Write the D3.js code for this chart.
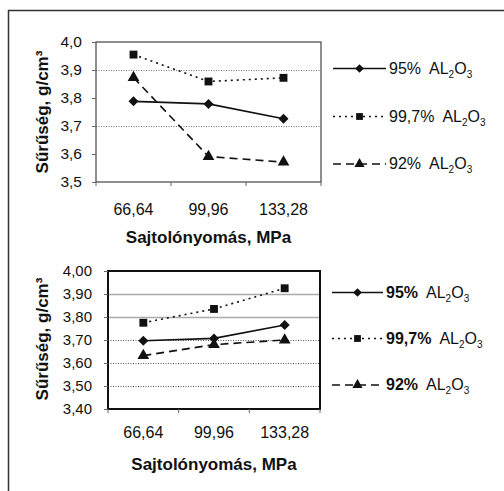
<!DOCTYPE html>
<html>
<head>
  <meta charset="utf-8">
  <script src="https://d3js.org/d3.v7.min.js"></script>
  <style>
    body { margin: 0; background: #fff; }
    svg { display: block; font-family: "Liberation Sans", Arial, sans-serif; }
  </style>
</head>
<body>
<script type="text/javascript">
  "use strict";

  /*
    Data
  */
  var categories = ["66,64", "99,96", "133,28"];
  var seriesNames = ["95%", "99,7%", "92%"];

  var top95 = [3.788, 3.779, 3.726];
  var top997 = [3.955, 3.859, 3.872];
  var top92 = [3.873, 3.591, 3.571];
  var topTicks = [3.5, 3.6, 3.7, 3.8, 3.9, 4.0];

  var bottom95 = [3.697, 3.707, 3.765];
  var bottom997 = [3.775, 3.835, 3.925];
  var bottom92 = [3.632, 3.68, 3.70];
  var bottomTicks = [3.4, 3.5, 3.6, 3.7, 3.8, 3.9, 4.0];

  var width = 504, height = 491;

  var svg = d3.select("body").append("svg")
      .attr("width", width)
      .attr("height", height);

  // outer frame (only top and left edges fall inside the picture)
  svg.append("path")
      .attr("d", "M8.5,491V10.5H504")
      .attr("fill", "none")
      .attr("stroke", "#333")
      .attr("stroke-width", 1.5);

  var styles = [
    { dash: null, symbol: d3.symbolSquare, rotate: 45, size: 50 },
    { dash: "2,4", symbol: d3.symbolSquare, rotate: 0, size: 62 },
    { dash: "8,5", symbol: d3.symbolTriangle, rotate: 0, size: 60 }
  ];

  function comma(f) {
    return function (d) { return d3.format(f)(d).replace(".", ","); };
  }

  /*
    One chart panel
  */
  function drawPanel(opt) {
    var g = svg.append("g");

    var x = d3.scaleBand().domain(categories).range(opt.xRange);
    var y = d3.scaleLinear().domain(opt.yDomain).range(opt.yRange);
    var x0 = opt.xRange[0], x1 = opt.xRange[1];
    var yTop = opt.yRange[1], yBot = opt.yRange[0];

    // grid lines
    opt.grid.forEach(function (gl) {
      g.selectAll(null).data(gl.values).enter().append("line")
          .attr("x1", x0).attr("x2", x1)
          .attr("y1", function (d) { return Math.round(y(d)) + 0.5; })
          .attr("y2", function (d) { return Math.round(y(d)) + 0.5; })
          .attr("stroke", gl.color)
          .attr("stroke-width", gl.width)
          .attr("stroke-dasharray", gl.dash);
    });

    // plot frame
    g.append("rect")
        .attr("x", x0).attr("y", yTop)
        .attr("width", x1 - x0).attr("height", yBot - yTop)
        .attr("fill", "none")
        .attr("stroke", opt.frameColor)
        .attr("stroke-width", opt.frameWidth);

    // y axis
    var yAxis = d3.axisLeft(y)
        .tickValues(opt.ticks)
        .tickSize(4)
        .tickPadding(opt.tickPad)
        .tickFormat(comma(opt.fmt));
    var ya = g.append("g").attr("transform", "translate(" + x0 + ",0)").call(yAxis);
    ya.select(".domain").remove();
    ya.selectAll(".tick line").attr("stroke", "#666");
    ya.selectAll(".tick text")
        .attr("font-size", opt.yFont)
        .attr("fill", "#111")
        .attr("font-family", null);

    // x ticks at category boundaries
    var bounds = categories.map(function (c) { return x(c); }).concat([x1]);
    g.selectAll(null).data(bounds).enter().append("line")
        .attr("x1", function (d) { return d; })
        .attr("x2", function (d) { return d; })
        .attr("y1", yBot).attr("y2", yBot + 4)
        .attr("stroke", "#666");

    g.selectAll(null).data(categories).enter().append("text")
        .attr("x", function (d) { return x(d) + x.bandwidth() / 2; })
        .attr("y", opt.xLabelY)
        .attr("text-anchor", "middle")
        .attr("font-size", 16)
        .attr("fill", "#111")
        .text(function (d) { return d; });

    // axis titles
    g.append("text")
        .attr("x", (x0 + x1) / 2)
        .attr("y", opt.xTitleY)
        .attr("text-anchor", "middle")
        .attr("font-size", 17)
        .attr("font-weight", "bold")
        .attr("fill", "#111")
        .text("Sajtolónyomás, MPa");

    g.append("text")
        .attr("transform", "translate(48," + opt.yTitleY + ") rotate(-90)")
        .attr("text-anchor", "middle")
        .attr("font-size", 17)
        .attr("font-weight", "bold")
        .attr("fill", "#111")
        .text("Sűrűség, g/cm³");

    // series
    var line = d3.line()
        .x(function (d, i) { return x(categories[i]) + x.bandwidth() / 2; })
        .y(function (d) { return y(d); });

    opt.series.forEach(function (vals, k) {
      var st = styles[k];
      g.append("path")
          .attr("d", line(vals))
          .attr("fill", "none")
          .attr("stroke", "#111")
          .attr("stroke-width", 1.6)
          .attr("stroke-dasharray", st.dash);
      g.selectAll(null).data(vals).enter().append("path")
          .attr("d", d3.symbol().type(st.symbol).size(st.size)())
          .attr("transform", function (d, i) {
            return "translate(" + (x(categories[i]) + x.bandwidth() / 2) + "," + y(d) + ") rotate(" + st.rotate + ")";
          })
          .attr("fill", "#111");
    });

    // legend
    var lg = g.append("g");
    seriesNames.forEach(function (name, k) {
      var st = styles[k];
      var by = opt.legendY[k];
      var ly = by - 5;
      lg.append("line")
          .attr("x1", opt.legendX[0]).attr("x2", opt.legendX[1])
          .attr("y1", ly).attr("y2", ly)
          .attr("stroke", "#111")
          .attr("stroke-width", 1.5)
          .attr("stroke-dasharray", st.dash);
      lg.append("path")
          .attr("d", d3.symbol().type(st.symbol).size(st.size * 0.75)())
          .attr("transform", "translate(" + (opt.legendX[0] + opt.legendX[1]) / 2 + "," + ly + ") rotate(" + st.rotate + ")")
          .attr("fill", "#111");
      var t = lg.append("text")
          .attr("x", opt.legendX[1] + 3)
          .attr("y", by)
          .attr("font-size", 16)
          .attr("fill", "#111");
      t.append("tspan").attr("font-weight", opt.legendBold ? "bold" : null).text(name);
      t.append("tspan").attr("dx", 8).text("AL");
      t.append("tspan").attr("dy", 4).attr("font-size", 10).text("2");
      t.append("tspan").attr("dy", -4).text("O");
      t.append("tspan").attr("dy", 4).attr("font-size", 10).text("3");
    });
  }

  drawPanel({
    xRange: [96, 321], yRange: [182, 42], yDomain: [3.5, 4.0],
    ticks: topTicks, fmt: ".1f", tickPad: 10, yFont: 15.5,
    grid: [{ values: [3.9, 3.7], color: "#777", width: 1, dash: "1,1.5" }],
    frameColor: "#444", frameWidth: 1.2,
    xLabelY: 215, xTitleY: 243, yTitleY: 112,
    series: [top95, top997, top92],
    legendX: [333, 386], legendY: [73.5, 121.5, 169], legendBold: false
  });

  drawPanel({
    xRange: [108, 320], yRange: [409, 271], yDomain: [3.4, 4.0],
    ticks: bottomTicks, fmt: ".2f", tickPad: 12, yFont: 15,
    grid: [{ values: [3.9, 3.8], color: "#aaa", width: 1.5, dash: null },
           { values: [3.7, 3.6, 3.5], color: "#555", width: 1, dash: "1,1.5" }],
    frameColor: "#111", frameWidth: 2,
    xLabelY: 438, xTitleY: 470, yTitleY: 339,
    series: [bottom95, bottom997, bottom92],
    legendX: [332, 383], legendY: [297.5, 343.5, 390], legendBold: true
  });
</script>
</body>
</html>
